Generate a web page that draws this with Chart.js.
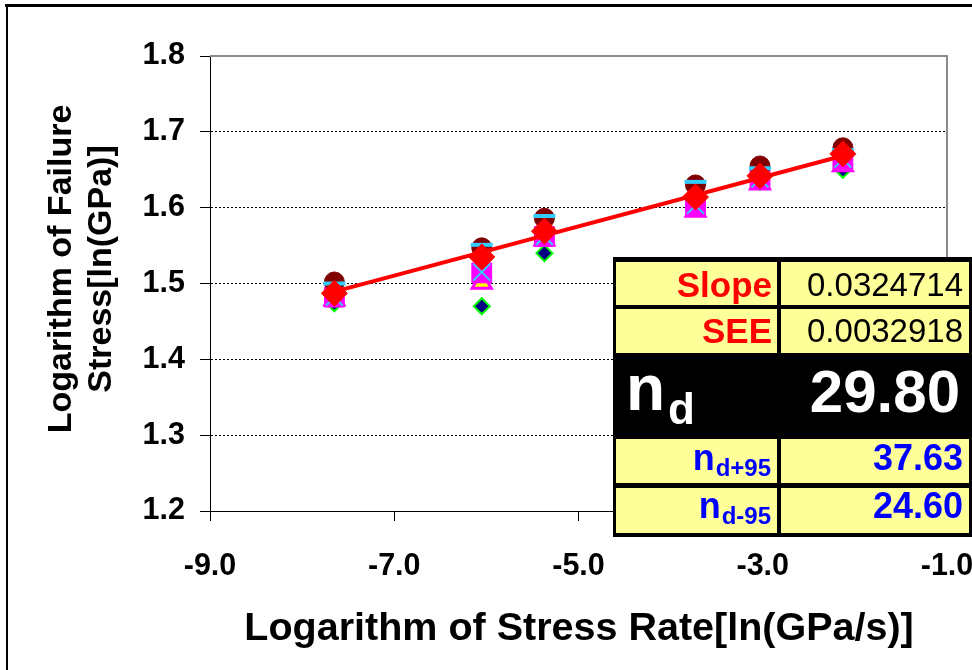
<!DOCTYPE html>
<html>
<head>
<meta charset="utf-8">
<script src="https://cdn.jsdelivr.net/npm/chart.js@4.4.0/dist/chart.umd.min.js"></script>
<style>
  html, body { margin: 0; padding: 0; background: #fff; overflow: hidden; }
  #box { position: relative; width: 972px; height: 670px; }
  canvas { position: absolute; left: 0; top: 0; }
</style>
</head>
<body>
<div id="box"><canvas id="c" width="972" height="670"></canvas></div>
<script>
// ln(stress rate), one entry per loading rate
const lnRate = [-7.65, -6.05, -5.37, -3.73, -3.03, -2.13];

// ln(failure stress) for each specimen series at each rate
const specDiamond  = [1.474, 1.470, 1.540, 1.600, 1.634, 1.650];
const specSquare   = [1.482, 1.514, 1.562, 1.603, 1.638, 1.664];
const specTriangle = [1.479, 1.501, 1.558, 1.596, 1.632, 1.656];
const specCross    = [1.482, 1.515, 1.562, 1.603, 1.638, 1.664];
const specCircle   = [1.502, 1.547, 1.586, 1.630, 1.655, 1.679];
const specDash     = [1.500, 1.551, 1.589, 1.634, 1.652, 1.676];

// mean ln(failure stress) at each rate
const meanStress   = [1.487, 1.535, 1.569, 1.614, 1.642, 1.671];

// regression results
const slope = 0.0324714;
const tableLabels = ['Slope', 'SEE'];
const tableValues = ['0.0324714', '0.0032918'];
const ndValue = '29.80';
const ndBounds = ['37.63', '24.60'];
const ndBoundSubs = ['d+95', 'd-95'];

// axis ticks
const xTickValues = [-9, -7, -5, -3, -1];
const yTickValues = [1.2, 1.3, 1.4, 1.5, 1.6, 1.7, 1.8];

const pts = ys => lnRate.map((x, i) => ({ x: x, y: ys[i] }));

// fit line through the centroid of the means with the reported slope
const mx = lnRate.reduce((a, b) => a + b, 0) / lnRate.length;
const my = meanStress.reduce((a, b) => a + b, 0) / meanStress.length;
const fitEnds = [lnRate[0], lnRate[lnRate.length - 1]];
const fitLine = fitEnds.map(x => ({ x: x, y: my + slope * (x - mx) }));

const FONT = "'Liberation Sans', Arial, sans-serif";
const AREA = { left: 210, right: 947, top: 56, bottom: 511 };

const decorations = {
  id: 'decorations',
  beforeDatasetsDraw(chart) {
    const ctx = chart.ctx;
    const a = chart.chartArea;
    ctx.save();
    // plot area frame (top and right)
    ctx.strokeStyle = '#8c8c8c';
    ctx.lineWidth = 2;
    ctx.beginPath();
    ctx.moveTo(a.left, a.top);
    ctx.lineTo(a.right, a.top);
    ctx.lineTo(a.right, a.bottom);
    ctx.stroke();
    ctx.restore();
  },
  afterDraw(chart) {
    const ctx = chart.ctx;
    ctx.save();
    // outer chart frame
    ctx.fillStyle = '#000';
    ctx.fillRect(5, 4, 967, 3);
    ctx.fillRect(6, 4, 2, 666);

    // axis titles
    ctx.fillStyle = '#000';
    ctx.font = 'bold 34px ' + FONT;
    ctx.textAlign = 'center';
    ctx.textBaseline = 'alphabetic';
    ctx.save();
    ctx.translate(71, 269);
    ctx.rotate(-Math.PI / 2);
    ctx.fillText('Logarithm of Failure', 0, 0);
    ctx.restore();
    ctx.save();
    ctx.translate(111, 269);
    ctx.rotate(-Math.PI / 2);
    ctx.fillText('Stress[ln(GPa)]', 0, 0);
    ctx.restore();
    ctx.font = 'bold 39.5px ' + FONT;
    ctx.fillText('Logarithm of Stress Rate[ln(GPa/s)]', 579, 640);

    // regression summary table
    const L = 616, LW = 161, R = 781, RW = 188;
    ctx.fillStyle = '#000';
    ctx.fillRect(613, 257, 359, 280);
    ctx.fillStyle = '#ffff99';
    const rows = [[262, 43], [309, 44], [439, 44], [488, 45]];
    rows.forEach(r => {
      ctx.fillRect(L, r[0], LW, r[1]);
      ctx.fillRect(R, r[0], RW, r[1]);
    });

    ctx.textAlign = 'right';
    const labelBase = [297, 343];
    tableLabels.forEach((t, i) => {
      ctx.fillStyle = '#ff0000';
      ctx.font = 'bold 35px ' + FONT;
      ctx.fillText(t, 772, labelBase[i]);
      ctx.fillStyle = '#000';
      ctx.font = '33px ' + FONT;
      ctx.fillText(tableValues[i], 963, labelBase[i] - 1);
    });

    // n_d row
    ctx.fillStyle = '#fff';
    ctx.textAlign = 'left';
    ctx.font = 'bold 64px ' + FONT;
    ctx.fillText('n', 626, 410);
    const nW = ctx.measureText('n').width;
    ctx.font = 'bold 44px ' + FONT;
    ctx.fillText('d', 626 + nW + 3, 424);
    ctx.textAlign = 'right';
    ctx.font = 'bold 60px ' + FONT;
    ctx.fillText(ndValue, 960, 412);

    // confidence bounds
    const bBase = [470, 518];
    ndBounds.forEach((v, i) => {
      ctx.fillStyle = '#0000ff';
      ctx.textAlign = 'right';
      ctx.font = 'bold 24px ' + FONT;
      ctx.fillText(ndBoundSubs[i], 771, bBase[i] + 6);
      const sW = ctx.measureText(ndBoundSubs[i]).width;
      ctx.font = 'bold 36px ' + FONT;
      ctx.fillText('n', 771 - sW - 1, bBase[i]);
      ctx.fillText(v, 963, bBase[i]);
    });
    ctx.restore();
  }
};

const tickFont = { family: FONT, size: 30.5, weight: 'bold' };

new Chart(document.getElementById('c'), {
  type: 'scatter',
  data: {
    datasets: [
      { label: 'Mean', data: pts(meanStress), pointStyle: 'rectRot', pointRadius: 13,
        backgroundColor: '#ff0000', borderColor: '#ff0000', borderWidth: 1 },
      { label: 'Fit', data: fitLine, showLine: true, pointRadius: 0,
        borderColor: '#ff0000', borderWidth: 4 },
      { label: 'S6', data: pts(specDash), pointStyle: 'line', pointRadius: 11,
        borderColor: '#33ccff', borderWidth: 4 },
      { label: 'S5', data: pts(specCircle), pointStyle: 'circle', pointRadius: 10,
        backgroundColor: '#800000', borderColor: '#800000', borderWidth: 1 },
      { label: 'S4', data: pts(specCross), pointStyle: 'crossRot', pointRadius: 12,
        borderColor: '#33ccff', borderWidth: 2 },
      { label: 'S2', data: pts(specSquare), pointStyle: 'rect', pointRadius: 14,
        backgroundColor: '#ff00ff', borderColor: '#ff00ff', borderWidth: 1 },
      { label: 'S3', data: pts(specTriangle), pointStyle: 'triangle', pointRadius: 11,
        backgroundColor: '#ffff00', borderColor: '#ff00ff', borderWidth: 3 },
      { label: 'S1', data: pts(specDiamond), pointStyle: 'rectRot', pointRadius: 8,
        backgroundColor: '#000080', borderColor: '#00ff00', borderWidth: 2 }
    ]
  },
  options: {
    responsive: false,
    animation: false,
    events: [],
    layout: { padding: { left: 0, top: AREA.top, right: 972 - AREA.right, bottom: 0 } },
    plugins: { legend: { display: false }, tooltip: { enabled: false } },
    scales: {
      x: {
        type: 'linear', min: -9, max: -1,
        afterBuildTicks: s => { s.ticks = xTickValues.map(v => ({ value: v })); },
        afterFit: s => { s.height = 670 - AREA.bottom; s.paddingLeft = 0; s.paddingRight = 0; },
        ticks: { font: tickFont, color: '#000', padding: 27, maxRotation: 0,
                 callback: v => Number(v).toFixed(1) },
        grid: { drawOnChartArea: false, drawTicks: true, tickLength: 10, tickColor: '#000', tickWidth: 1 },
        border: { display: true, color: '#000', width: 1 }
      },
      y: {
        type: 'linear', min: 1.2, max: 1.8,
        afterBuildTicks: s => { s.ticks = yTickValues.map(v => ({ value: v })); },
        afterFit: s => { s.width = AREA.left; s.paddingTop = 0; s.paddingBottom = 0; },
        ticks: { font: tickFont, color: '#000', padding: 15,
                 callback: v => Number(v).toFixed(1) },
        grid: { color: '#000', lineWidth: 1, tickLength: 10, tickColor: '#000', tickWidth: 1,
                tickBorderDash: [] },
        border: { display: true, color: '#000', width: 1, dash: [2, 2] }
      }
    }
  },
  plugins: [decorations]
});
</script>
</body>
</html>
